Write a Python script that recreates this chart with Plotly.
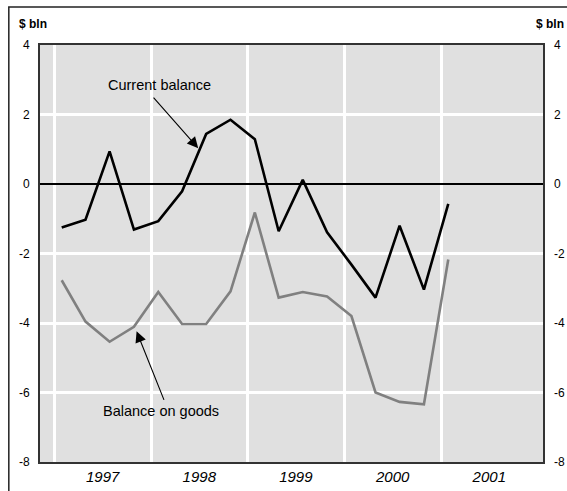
import plotly.graph_objects as go

# Quarterly observations, 1997 Q1 - 2001 Q1
quarters = [
    "1997-01-28", "1997-04-28", "1997-07-28", "1997-10-28",
    "1998-01-28", "1998-04-28", "1998-07-28", "1998-10-28",
    "1999-01-28", "1999-04-28", "1999-07-28", "1999-10-28",
    "2000-01-28", "2000-04-28", "2000-07-28", "2000-10-28",
    "2001-01-28",
]
current_balance = [
    -1.25, -1.03, 0.94, -1.31, -1.07, -0.21, 1.44, 1.85, 1.29,
    -1.36, 0.12, -1.39, -2.32, -3.27, -1.20, -3.04, -0.57,
]
balance_on_goods = [
    -2.77, -3.96, -4.54, -4.11, -3.11, -4.03, -4.03, -3.09, -0.82,
    -3.27, -3.11, -3.24, -3.80, -6.00, -6.27, -6.34, -2.17,
]
year_labels = ["1997", "1998", "1999", "2000", "2001"]
year_mid = ["1997-07-02", "1998-07-02", "1999-07-02", "2000-07-02", "2001-07-02"]
year_start = ["1997-01-01", "1998-01-01", "1999-01-01", "2000-01-01", "2001-01-01"]
y_ticks = [-8, -6, -4, -2, 0, 2, 4]
y_labels = ["-8", "-6", "-4", "-2", "0", "2", "4"]

FONT = "Liberation Sans, Arial, sans-serif"

fig = go.Figure()
fig.add_trace(
    go.Scatter(
        x=quarters, y=balance_on_goods, mode="lines",
        line={"color": "#808080", "width": 2.6}, yaxis="y2",
        name="Balance on goods",
    )
)
fig.add_trace(
    go.Scatter(
        x=quarters, y=current_balance, mode="lines",
        line={"color": "#000000", "width": 2.6},
        name="Current balance",
    )
)

fig.update_layout(
    width=567,
    height=491,
    margin={"l": 40, "r": 24, "t": 45, "b": 29},
    paper_bgcolor="white",
    plot_bgcolor="#e0e0e0",
    showlegend=False,
    font={"family": FONT, "color": "#000", "size": 12},
    xaxis={
        "type": "date",
        "range": ["1996-11-07", "2002-01-21"],
        "tickmode": "array",
        "tickvals": year_mid,
        "ticktext": year_labels,
        "ticks": "",
        "showgrid": False,
        "tickfont": {"size": 15, "family": FONT, "style": "italic"},
        "showline": True, "mirror": True, "linecolor": "#333", "linewidth": 2,
        "minor": {
            "tickmode": "array", "tickvals": year_start,
            "showgrid": True, "gridcolor": "white", "gridwidth": 2.5,
        },
        "zeroline": False,
        "automargin": False,
    },
    yaxis={
        "range": [-8, 4],
        "tickmode": "array",
        "tickvals": y_ticks,
        "ticktext": y_labels,
        "ticks": "",
        "showgrid": True, "gridcolor": "white", "gridwidth": 2.5,
        "zeroline": True, "zerolinecolor": "black", "zerolinewidth": 1.5,
        "showline": True, "mirror": True, "linecolor": "#333", "linewidth": 2,
        "ticklabelstandoff": 6,
        "automargin": False,
    },
    yaxis2={
        "range": [-8, 4],
        "tickmode": "array",
        "tickvals": y_ticks,
        "ticktext": y_labels,
        "overlaying": "y",
        "side": "right",
        "ticks": "",
        "showgrid": False,
        "zeroline": False,
        "ticklabelstandoff": 10,
        "automargin": False,
    },
)

# text labels and pointers
fig.add_annotation(x="1998-01-31", y=2.85, text="Current balance", showarrow=False,
                   font={"size": 14.5, "family": FONT})
fig.add_annotation(x="1998-06-28", y=1.03, text="", showarrow=True, ax=-46, ay=-52,
                   arrowhead=2, arrowsize=2, arrowwidth=1.1, arrowcolor="black")
fig.add_annotation(x="1998-02-08", y=-6.52, text="Balance on goods", showarrow=False,
                   font={"size": 14.5, "family": FONT})
fig.add_annotation(x="1997-11-07", y=-4.24, text="", showarrow=True, ax=28, ay=70,
                   arrowhead=2, arrowsize=2, arrowwidth=1.1, arrowcolor="black")

# unit labels
for xp in (-0.014, 1.013):
    fig.add_annotation(x=xp, y=1.05, xref="paper", yref="paper", text="<b>$ bln</b>",
                       xanchor="center", yanchor="middle",
                       showarrow=False, font={"size": 12, "family": FONT})

# outer frame
fig.add_shape(type="rect", xref="paper", yref="paper", x0=-0.062, x1=1.3, y0=-0.3, y1=1.091,
              line={"color": "#222", "width": 1.5}, layer="above")

fig.write_html(
    "out.html",
    config={"displayModeBar": False},
    post_script="document.body.style.margin='0';",
)
